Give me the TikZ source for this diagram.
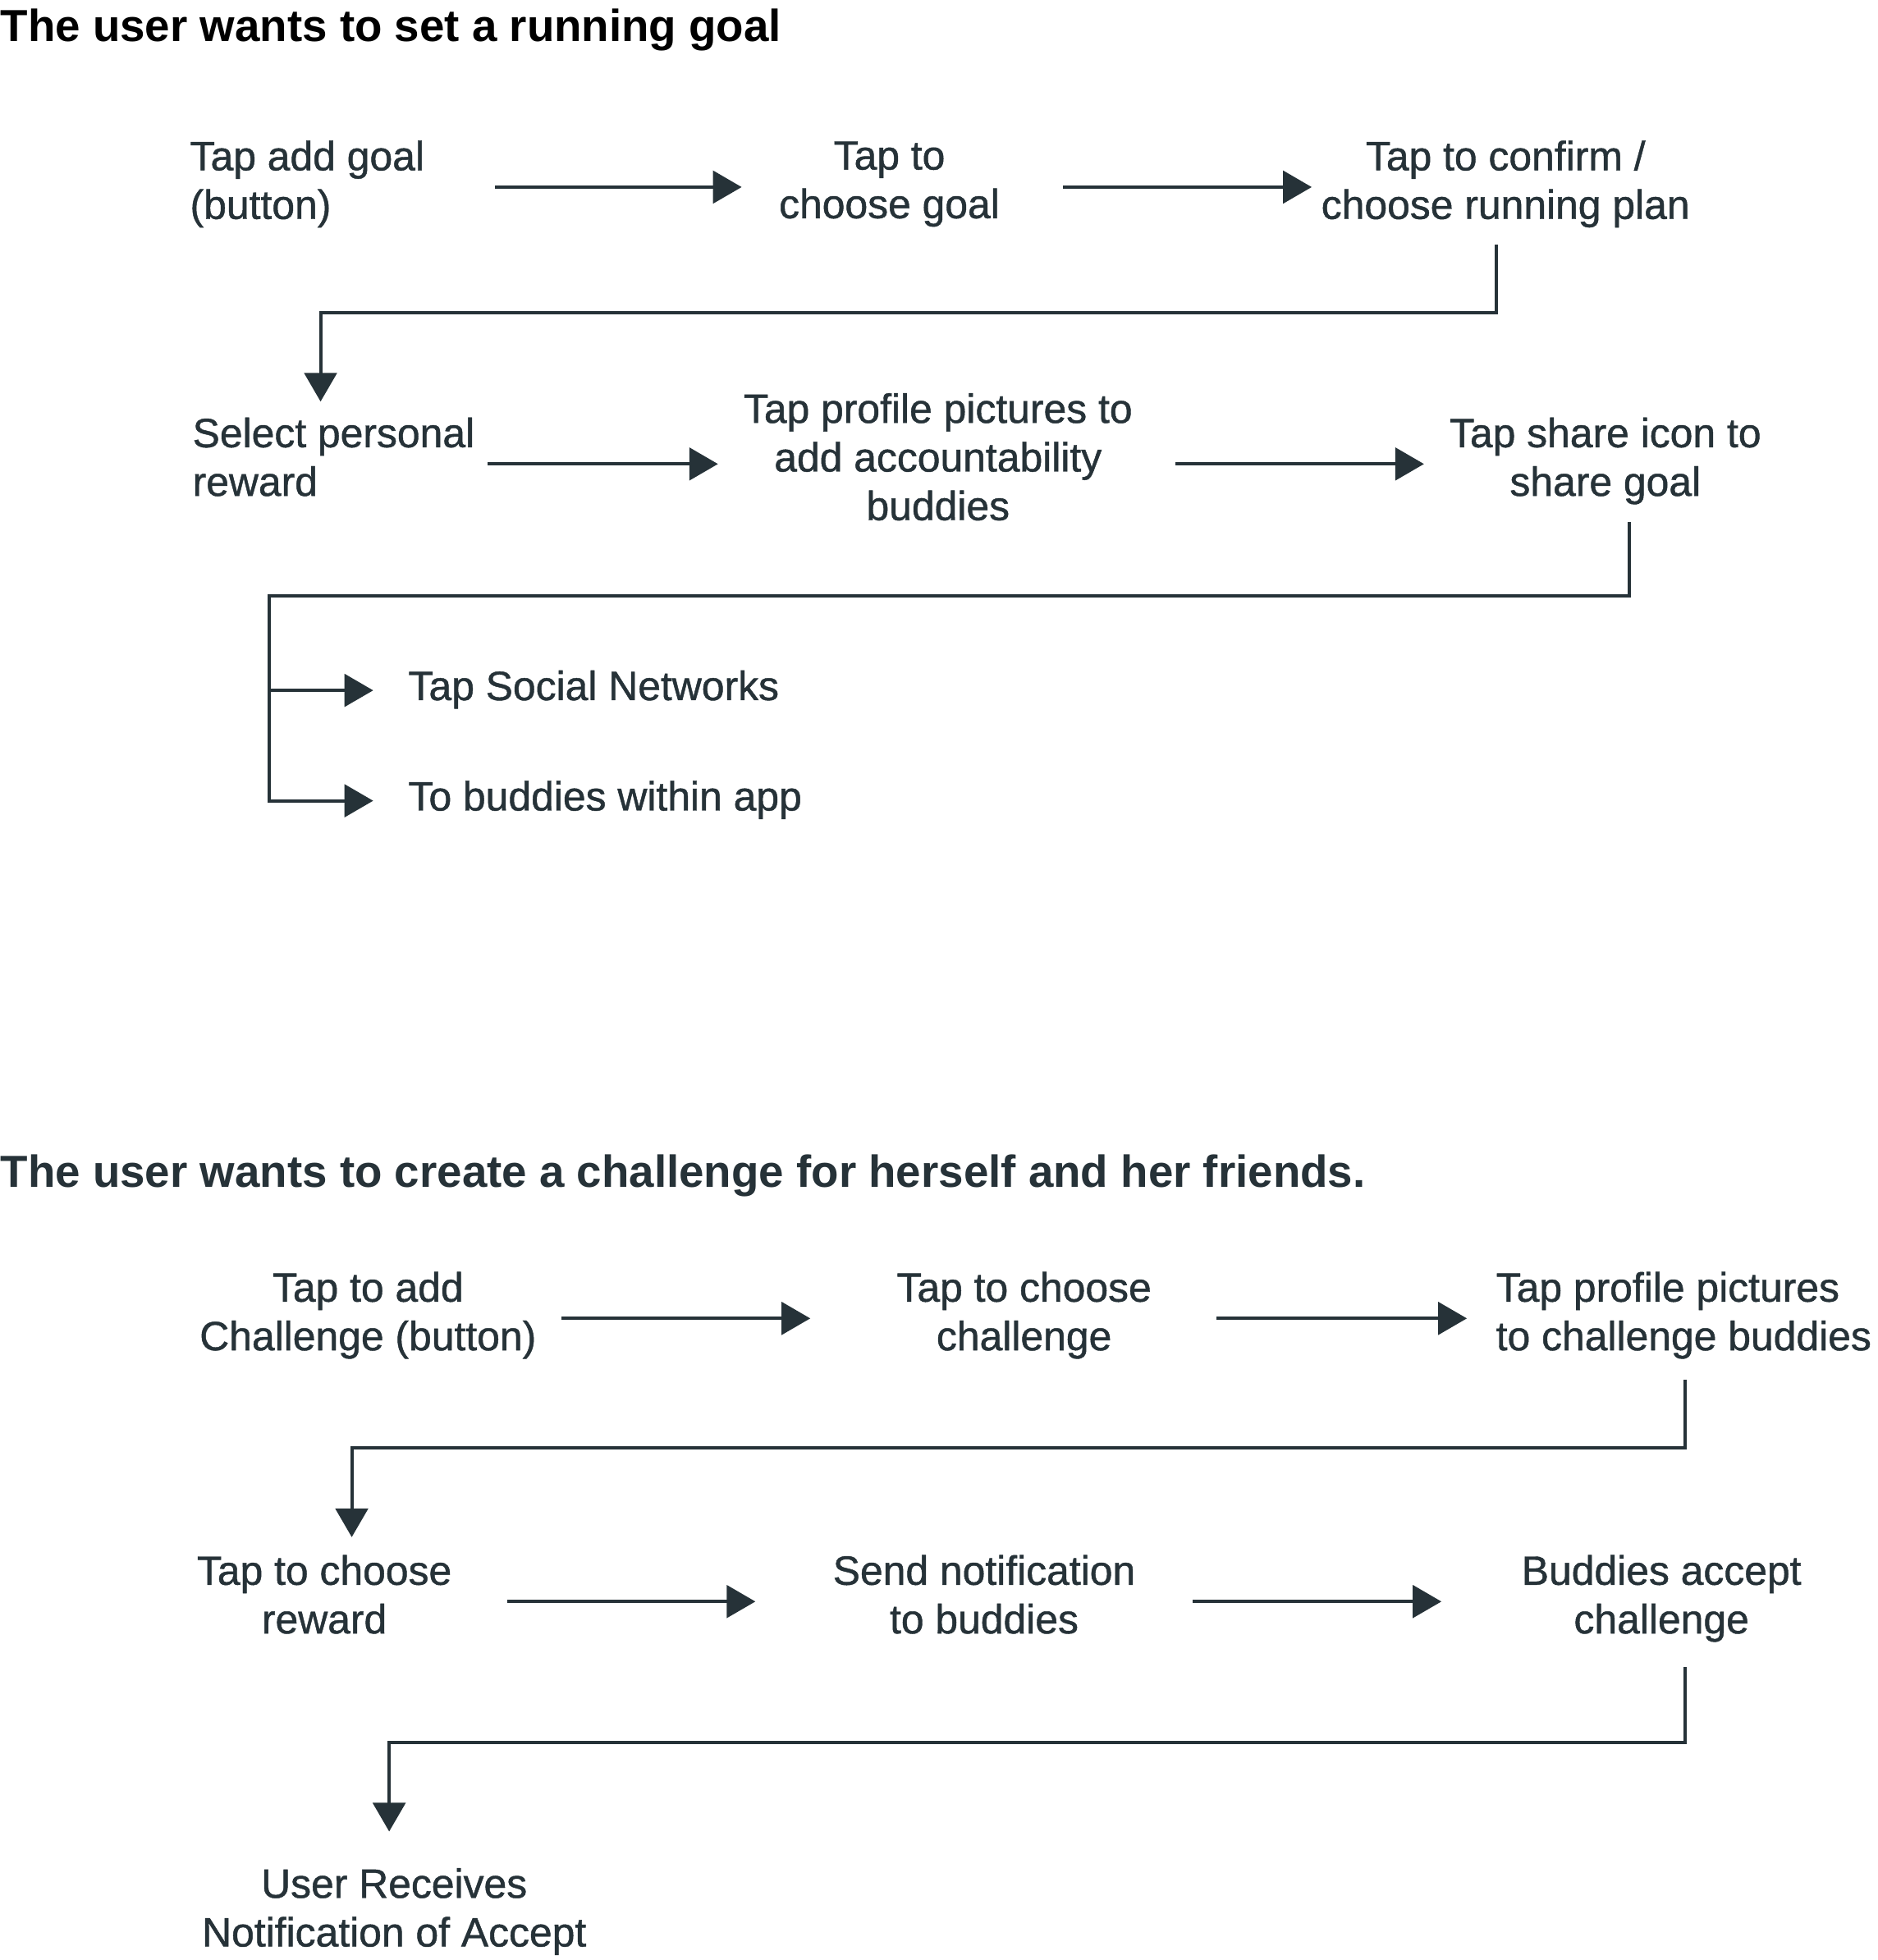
\documentclass[tikz,border=0pt]{standalone}
\usepackage{fontspec}
\setmainfont{Liberation Sans}
\newfontfamily\stepfont{Liberation Sans}[FakeBold=0.9]
\usetikzlibrary{arrows.meta}
\definecolor{ink}{HTML}{263238}
\tikzset{
  flow/.style={draw=ink, line width=1.3pt, -{Triangle[length=11.5pt,width=13pt]}},
  stepnode/.style={inner sep=0pt, text=ink, align=center, font=\stepfont\fontsize{16.4}{19.5}\selectfont,
    execute at begin node=\strut, execute at end node=\strut},
  heading/.style={inner sep=0pt, anchor=base west, font=\fontsize{18}{22}\selectfont\bfseries},
}
\begin{document}
\begin{tikzpicture}[x=0.5pt,y=0.5pt,yscale=-1,xscale=1]
\useasboundingbox (0,0) rectangle (1505,1571.4);

% Text Node
\node[heading] (goalhead) at (0,33) {The user wants to set a running goal};

% Text Node
\node[stepnode, align=left, anchor=west] (addgoal) at (152,150) {Tap add goal\\(button)};
% Text Node
\node[stepnode, minimum width=118pt] (choosegoal) at (713,150) {Tap to\\choose goal};
% Text Node
\node[stepnode, minimum width=155pt] (confirmplan) at (1207,150) {Tap to confirm /\\choose running plan};
% Text Node
\node[stepnode, align=left, anchor=west] (personal) at (154,372) {Select personal\\reward};
% Text Node
\node[stepnode, minimum width=176pt] (profilepics) at (752,372) {Tap profile pictures to\\add accountability\\buddies};
% Text Node
\node[stepnode, minimum width=145pt] (sharegoal) at (1287,372) {Tap share icon to\\share goal};
% Text Node
\node[stepnode, anchor=west] (socialnet) at (327,553.5) {Tap Social Networks};
% Text Node
\node[stepnode, anchor=west] (buddiesapp) at (327,642) {To buddies within app};

%Straight Lines
\draw[flow, shorten <=28pt] (addgoal) -- (choosegoal);
\draw[flow, shorten <=10.5pt] (choosegoal) -- (confirmplan);
\draw[flow, shorten <=5pt] (personal) -- (profilepics);
\draw[flow, shorten <=7pt] (profilepics) -- (sharegoal);

%Connectors
\coordinate (bendA1) at (1199.6,250.5);
\coordinate (bendA2) at (257,250.5);
\draw[flow, shorten <=4.2pt, shorten >=6.2pt] (confirmplan.south -| bendA1) -- (bendA1) -- (bendA2) -- (bendA2 |- personal.north);
\coordinate (bendB1) at (1306,478);
\coordinate (bendB2) at (215.6,478);
\draw[flow, shorten <=4.5pt, shorten >=13.9pt] (sharegoal.south -| bendB1) -- (bendB1) -- (bendB2) |- (buddiesapp);
\draw[flow, shorten >=13.9pt] (bendB2 |- socialnet) -- (socialnet);

% Text Node
\node[heading, text=ink] (challengehead) at (0,952) {The user wants to create a challenge for herself and her friends.};

% Text Node
\node[stepnode, minimum width=155pt] (addchallenge) at (295,1057) {Tap to add\\Challenge (button)};
% Text Node
\node[stepnode, minimum width=154pt] (choosechallenge) at (821,1057) {Tap to choose\\challenge};
% Text Node
\node[stepnode, align=left, anchor=west] (challengebuddies) at (1199,1057) {Tap profile pictures\\to challenge buddies};
% Text Node
\node[stepnode, minimum width=146pt] (choosereward) at (260,1284) {Tap to choose\\reward};
% Text Node
\node[stepnode, minimum width=167pt] (sendnote) at (789,1284) {Send notification\\to buddies};
% Text Node
\node[stepnode, minimum width=176pt] (accept) at (1332,1284) {Buddies accept\\challenge};
% Text Node
\node[stepnode] (receives) at (316,1535) {User Receives\\Notification of Accept};

%Straight Lines
\draw[flow, shorten >=8.5pt] (addchallenge) -- (choosechallenge);
\draw[flow, shorten >=11.5pt] (choosechallenge) -- (challengebuddies);
\draw[flow, shorten >=8pt] (choosereward) -- (sendnote);
\draw[flow] (sendnote) -- (accept);

%Connectors
\coordinate (bendD1) at (1351,1161);
\coordinate (bendD2) at (282,1161);
\draw[flow, shorten <=5.7pt, shorten >=7pt] (challengebuddies.south -| bendD1) -- (bendD1) -- (bendD2) -- (bendD2 |- choosereward.north);
\coordinate (bendE1) at (1351,1397);
\coordinate (bendE2) at (312,1397);
\draw[flow, shorten <=7.5pt, shorten >=14.5pt] (accept.south -| bendE1) -- (bendE1) -- (bendE2) -- (bendE2 |- receives.north);

\end{tikzpicture}
\end{document}
